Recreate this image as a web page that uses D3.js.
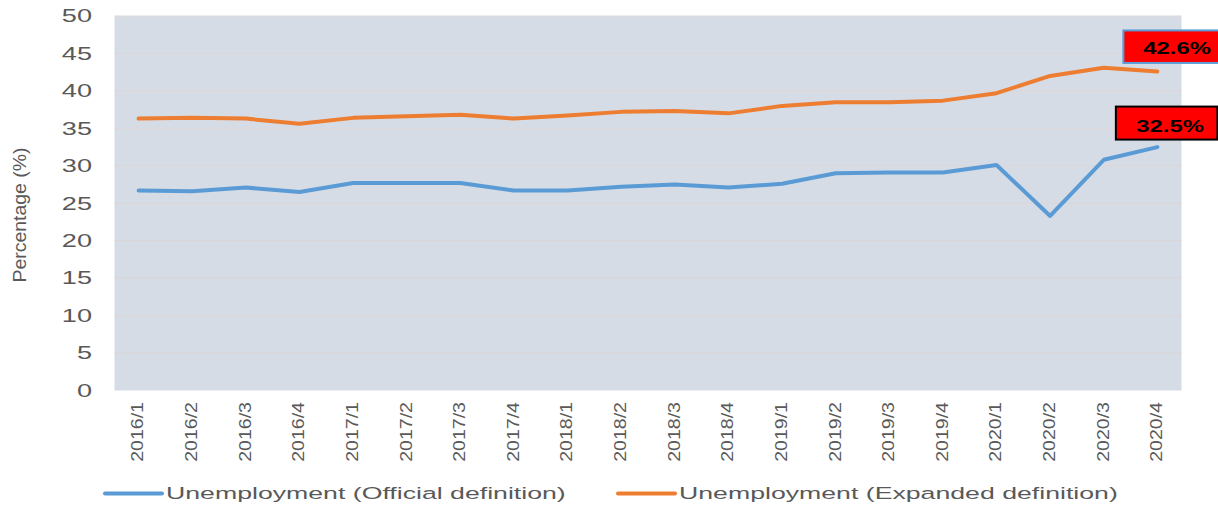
<!DOCTYPE html>
<html>
<head>
<meta charset="utf-8">
<script src="https://cdn.jsdelivr.net/npm/d3@7"></script>
<style>
  html, body { margin: 0; padding: 0; background: #ffffff; }
  svg { display: block; font-family: "Liberation Sans", Arial, sans-serif; }
</style>
</head>
<body>
<svg id="chart" width="1218" height="506"></svg>
<script>
// Quarterly unemployment rates, 2016 Q1 – 2020 Q4
const quarters = ["2016/1","2016/2","2016/3","2016/4","2017/1","2017/2","2017/3","2017/4",
                  "2018/1","2018/2","2018/3","2018/4","2019/1","2019/2","2019/3","2019/4",
                  "2020/1","2020/2","2020/3","2020/4"];
const official = [26.7, 26.6, 27.1, 26.5, 27.7, 27.7, 27.7, 26.7, 26.7, 27.2, 27.5, 27.1,
                  27.6, 29.0, 29.1, 29.1, 30.1, 23.3, 30.8, 32.5];
const expanded = [36.3, 36.4, 36.3, 35.6, 36.4, 36.6, 36.8, 36.3, 36.7, 37.2, 37.3, 37.0,
                  38.0, 38.5, 38.5, 38.7, 39.7, 42.0, 43.1, 42.6];
const yTicks = [0, 5, 10, 15, 20, 25, 30, 35, 40, 45, 50];
const seriesNames = ["Unemployment (Official definition)", "Unemployment (Expanded definition)"];
const seriesColors = ["#5b9bd5", "#ed7d31"];

const svg = d3.select("#chart");
const plot = { left: 114.5, right: 1181.5, top: 16, bottom: 390.5 };
const textColor = "#595959";

const x = d3.scalePoint().domain(quarters).range([plot.left, plot.right]).padding(0.45);
const y = d3.scaleLinear().domain([0, 50]).range([plot.bottom, plot.top]);

// plot background
svg.append("rect")
  .attr("x", plot.left).attr("y", plot.top)
  .attr("width", plot.right - plot.left).attr("height", plot.bottom - plot.top)
  .attr("fill", "#d6dce5");

// horizontal gridlines
svg.append("g").selectAll("line").data(yTicks.filter(d => d > 0)).join("line")
  .attr("x1", plot.left).attr("x2", plot.right)
  .attr("y1", d => y(d)).attr("y2", d => y(d))
  .attr("stroke", "#dcd6d8").attr("stroke-width", 1);

// y tick labels (wide rendering of the text)
svg.append("g").selectAll("g").data(yTicks).join("g")
  .attr("transform", d => `translate(92,${y(d)}) scale(1.55,1)`)
  .append("text")
  .attr("text-anchor", "end").attr("dy", "0.36em")
  .attr("font-size", 17.5).attr("fill", textColor)
  .text(d => d);

// y axis title
svg.append("text")
  .attr("transform", "translate(26,215) rotate(-90) scale(1.1,1)")
  .attr("text-anchor", "middle")
  .attr("font-size", 17.7).attr("fill", textColor)
  .text("Percentage (%)");

// x tick labels, rotated
svg.append("g").selectAll("g").data(quarters).join("g")
  .attr("transform", d => `translate(${x(d) - 1},402) rotate(-90) scale(1.2,1)`)
  .append("text")
  .attr("text-anchor", "end").attr("dy", "0.36em")
  .attr("font-size", 16.3).attr("fill", textColor)
  .text(d => d);

// series lines
const line = d3.line().x((d, i) => x(quarters[i])).y(d => y(d));
[official, expanded].forEach((vals, k) => {
  svg.append("path")
    .datum(vals)
    .attr("d", line)
    .attr("fill", "none")
    .attr("stroke", seriesColors[k])
    .attr("stroke-width", 4)
    .attr("stroke-linejoin", "round")
    .attr("stroke-linecap", "round");
});

// callouts for the latest values
const last = quarters.length - 1;
const callouts = [
  { value: expanded[last], boxX: -34, boxY: -41, boxW: 100, boxH: 32.5, stroke: "#5b9bd5", textX: -14, base: -17 },
  { value: official[last], boxX: -41.5, boxY: -40.5, boxW: 101.5, boxH: 33, stroke: "#000000", textX: -21, base: -15.5 }
];
callouts.forEach(c => {
  const px = x(quarters[last]);
  const py = y(c.value);
  svg.append("rect")
    .attr("x", px + c.boxX).attr("y", py + c.boxY)
    .attr("width", c.boxW).attr("height", c.boxH)
    .attr("fill", "#ff0000").attr("stroke", c.stroke).attr("stroke-width", 2);
  svg.append("g")
    .attr("transform", `translate(${px + c.textX},${py + c.base}) scale(1.4,1)`)
    .append("text")
    .attr("font-size", 17).attr("font-weight", "bold").attr("fill", "#000000")
    .text(c.value.toFixed(1) + "%");
});

// legend
const legendItems = [
  { name: seriesNames[0], color: seriesColors[0], x0: 105, x1: 162 },
  { name: seriesNames[1], color: seriesColors[1], x0: 618, x1: 675 }
];
legendItems.forEach(it => {
  svg.append("line")
    .attr("x1", it.x0).attr("x2", it.x1).attr("y1", 493.5).attr("y2", 493.5)
    .attr("stroke", it.color).attr("stroke-width", 4).attr("stroke-linecap", "round");
  svg.append("g")
    .attr("transform", `translate(${it.x1 + 4},498.5) scale(1.57,1)`)
    .append("text")
    .attr("font-size", 17).attr("fill", textColor)
    .text(it.name);
});
</script>
</body>
</html>
